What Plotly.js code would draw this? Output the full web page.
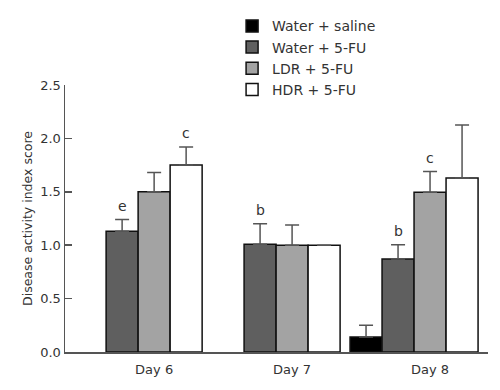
<!DOCTYPE html>
<html>
<head>
<meta charset="utf-8">
<script src="https://cdn.plot.ly/plotly-3.0.1.min.js"></script>
<style>html,body{margin:0;padding:0;background:#fff;}#chart{width:500px;height:390px;}</style>
</head>
<body>
<div id="chart"></div>
<script>
const days = ["Day 6", "Day 7", "Day 8"];
const seriesNames = ["Water + saline", "Water + 5-FU", "LDR + 5-FU", "HDR + 5-FU"];
const waterSaline = [null, null, 0.14];
const waterSalineErr = [null, null, 0.11];
const water5FU = [1.13, 1.01, 0.87];
const water5FUErr = [0.11, 0.19, 0.135];
const ldr5FU = [1.50, 1.00, 1.495];
const ldr5FUErr = [0.18, 0.19, 0.195];
const hdr5FU = [1.75, 1.00, 1.63];
const hdr5FUErr = [0.17, 0, 0.495];
// significance letters: [day index, series index, letter]
const sigDay = [0, 1, 2, 0, 2];
const sigSeries = [1, 1, 1, 3, 2];
const sigLetter = ["e", "b", "b", "c", "c"];

const values = [waterSaline, water5FU, ldr5FU, hdr5FU];
const errs = [waterSalineErr, water5FUErr, ldr5FUErr, hdr5FUErr];
const fills = ["#000000", "#5f5f5f", "#a3a3a3", "#ffffff"];
const font = "DejaVu Sans, Verdana, sans-serif";
const bargap = 0.072;

const traces = seriesNames.map((name, i) => ({
  type: "bar",
  name: name,
  x: days,
  y: values[i],
  legendgroup: "g" + i,
  marker: {color: fills[i], line: {color: "#111", width: 1.5}},
  error_y: {type: "data", array: errs[i], visible: true, color: "#555", thickness: 1.5, width: 7, symmetric: false, arrayminus: errs[i].map(() => 0)}
}));

const bw = (1 - bargap) / seriesNames.length;
const annotations = sigLetter.map((t, k) => {
  const d = sigDay[k], s = sigSeries[k];
  const off = (s - (seriesNames.length - 1) / 2) * bw;
  return {
    x: d + off, y: values[s][d] + errs[s][d], xref: "x", yref: "y",
    text: t, showarrow: false, yanchor: "bottom", yshift: 4,
    font: {family: font, size: 14, color: "#333"}
  };
});

const layout = {
  width: 500, height: 390,
  margin: {l: 65, r: 12, t: 84, b: 38},
  paper_bgcolor: "#fff", plot_bgcolor: "#fff",
  barmode: "group", bargap: bargap, bargroupgap: 0,
  font: {family: font, size: 13, color: "#333"},
  showlegend: true,
  legend: {x: 0.395, y: 1.275, xanchor: "left", yanchor: "top", traceorder: "normal",
           tracegroupgap: 6, font: {family: font, size: 14, color: "#333"}, bgcolor: "rgba(0,0,0,0)"},
  xaxis: {type: "category", range: [-0.53, 2.536], showline: true, linecolor: "#555", linewidth: 1.5,
          ticks: "", showgrid: false, zeroline: false, ticklabelshift: 16, ticklabelstandoff: 5,
          tickfont: {family: font, size: 13, color: "#333"}, fixedrange: true},
  yaxis: {range: [0, 2.5], tickvals: [0, 0.5, 1, 1.5, 2, 2.5], ticktext: ["0.0","0.5","1.0","1.5","2.0","2.5"],
          showline: true, linecolor: "#555", linewidth: 1.5, ticks: "inside", ticklen: 7, tickcolor: "#555", tickwidth: 1.5,
          showgrid: false, zeroline: false, tickfont: {family: font, size: 13, color: "#333"},
          title: {text: "Disease activity index score", font: {family: font, size: 12.5, color: "#333"}, standoff: 5}},
  annotations: annotations
};

Plotly.newPlot("chart", traces, layout, {displayModeBar: false, staticPlot: true});
</script>
</body>
</html>
